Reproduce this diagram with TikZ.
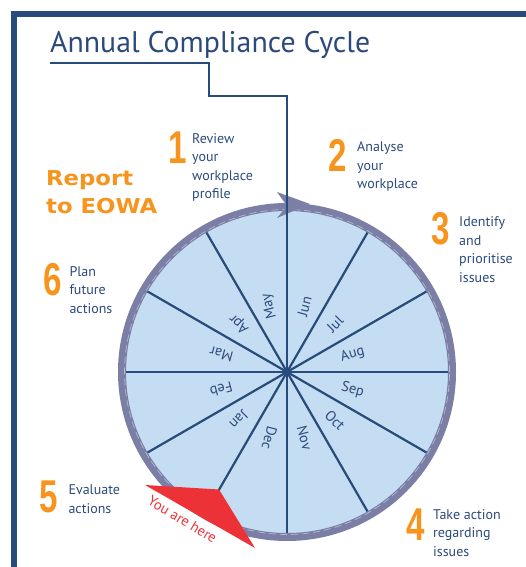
\documentclass[tikz,border=0pt]{standalone}
\usepackage{fontspec}
\usetikzlibrary{calc}
\setmainfont{PT Sans}
\newfontfamily\numfont[FakeStretch=0.72]{Liberation Sans}
\newfontfamily\reportfont{DejaVu Sans}
\definecolor{frameblue}{HTML}{274B7A}
\definecolor{textblue}{HTML}{2B4A7B}
\definecolor{stepor}{HTML}{F7941D}
\definecolor{ringcol}{HTML}{7B7FA6}
\definecolor{wheelfill}{HTML}{C4DDF2}
\definecolor{herered}{HTML}{ED3237}
\tikzset{
  stepnum/.style={font=\numfont\bfseries\fontsize{46}{46}\selectfont, text=stepor, inner sep=0pt, anchor=center},
  steptext/.style={font=\fontsize{14}{18.5}\selectfont, text=textblue, align=left, inner sep=0pt, anchor=north west},
  month/.style={font=\fontsize{14.5}{14.5}\selectfont, text=textblue, inner sep=0pt},
  spoke/.style={draw=frameblue, line width=2.2pt},
  link/.style={draw=frameblue, line width=2pt},
}
\begin{document}
\begin{tikzpicture}[x=1pt,y=1pt]
\useasboundingbox (0,0) rectangle (525,567);
% frame
\draw[frameblue, line width=6pt] (14,0) -- (14,553) -- (530,553);
% title
\node[font=\fontsize{29.8}{29.8}\selectfont, text=textblue, inner sep=0pt, anchor=base west] (title) at (50,514) {Annual Compliance Cycle};
% wheel
\coordinate (C) at (287,195);
\fill[wheelfill] (C) circle[radius=165];
\foreach \a in {0,30,...,150} {
  \draw[spoke] ($(C)+(\a:165)$) -- ($(C)+(\a+180:165)$);
}
\draw[ringcol, line width=8pt] (C) circle[radius=165];
\draw[white!45!ringcol, line width=0.7pt, dash pattern=on 7pt off 4pt] (C) circle[radius=162.5];
% month labels
\foreach \m [count=\i from 0] in {Jun,Jul,Aug,Sep,Oct,Nov,Dec,Jan,Feb,Mar,Apr,May} {
  \pgfmathsetmacro{\ang}{75-30*\i}
  \node[month, rotate=\ang] (m\i) at ($(C)+(\ang:68)$) {\m};
}
% connector from title to wheel
\coordinate (ringtop) at (287,360);
\draw[link] (title.south west |- 0,504) -- (209,504) -- (209,471) -- (287,471) -- (ringtop);
% arrowhead on ring
\fill[ringcol] (277,375) -- (310,363) -- (277,349) -- (287,361) -- cycle;
\draw[spoke] (287,471) -- (C);
% steps
\node[stepnum] (n1) at (177.5,419.5) {1};
\node[steptext] (t1) at (192,433.7) {Review\\your\\workplace\\profile};
\node[stepnum] (n2) at (338,412) {2};
\node[steptext] (t2) at (357,425.3) {Analyse\\your\\workplace};
\node[stepnum] (n3) at (441,338) {3};
\node[steptext] (t3) at (459,350.3) {Identify\\and\\prioritise\\issues};
\node[stepnum] (n4) at (415.5,42.5) {4};
\node[steptext] (t4) at (433,57.7) {Take action\\regarding\\issues};
\node[stepnum] (n5) at (49,70) {5};
\node[steptext] (t5) at (68.3,82) {Evaluate\\actions};
\node[stepnum] (n6) at (52.5,287) {6};
\node[steptext] (t6) at (69.3,301) {Plan\\future\\actions};
% report
\node[font=\reportfont\bfseries\fontsize{20.5}{28}\selectfont, text=stepor, align=left, inner sep=0pt, anchor=north west, xscale=1.11] (report) at (46,397) {Report\\to EOWA};
% you are here
\fill[herered] (145,82) -- (219,77.5) -- (255,19) -- cycle;
\node[font=\fontsize{14.5}{14.5}\selectfont, text=herered, rotate=-31, inner sep=0pt] (here) at (182.5,47.5) {You are here};
\end{tikzpicture}
\end{document}
